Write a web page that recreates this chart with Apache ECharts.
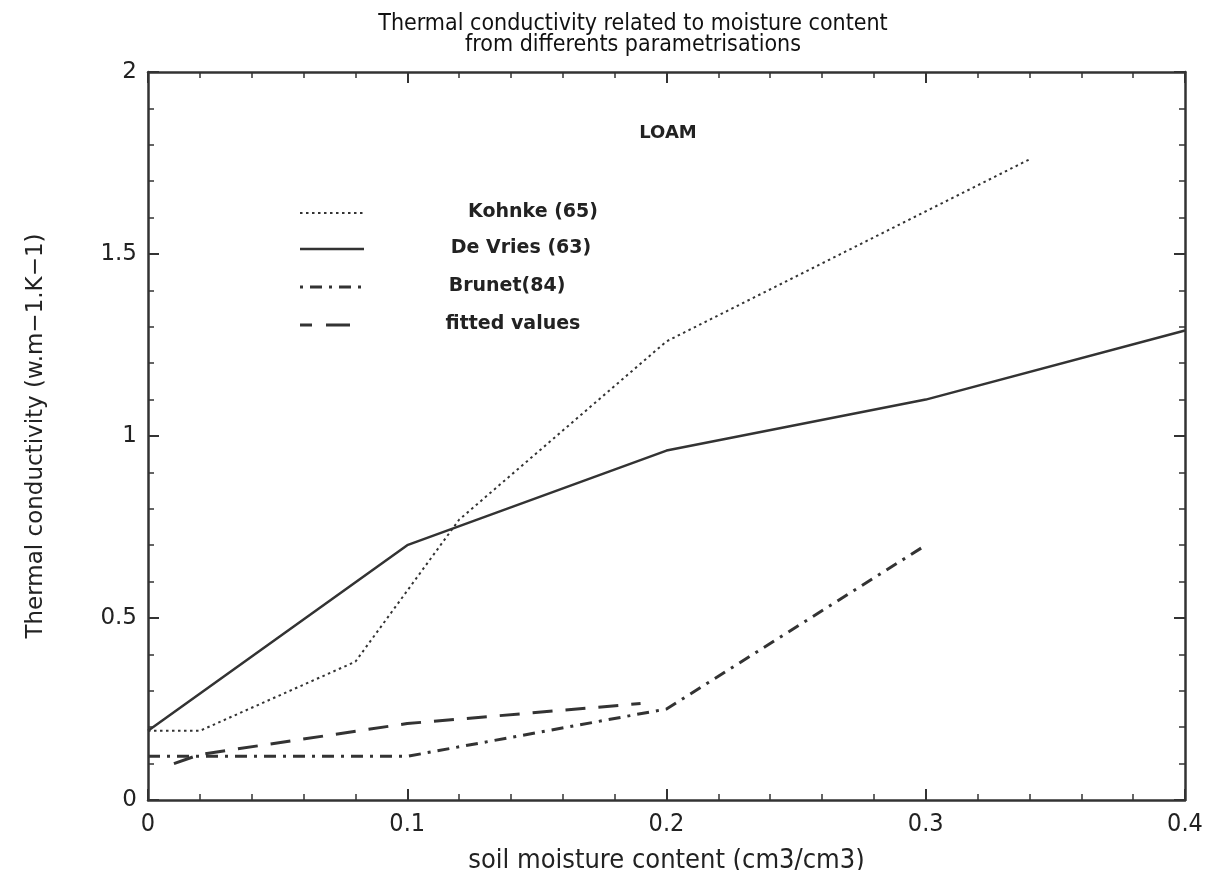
<!DOCTYPE html>
<html>
<head>
<meta charset="utf-8">
<script src="https://cdn.jsdelivr.net/npm/echarts@6/dist/echarts.min.js"></script>
<style>
html,body{margin:0;padding:0;background:#fff;}
#chart{width:1207px;height:870px;}
</style>
</head>
<body>
<div id="chart"></div>
<script>
// ---- data ----
var xTicks = [0, 0.1, 0.2, 0.3, 0.4];
var yTicks = [0, 0.5, 1, 1.5, 2];
var seriesNames = ['Kohnke (65)', 'De Vries (63)', 'Brunet(84)', 'fitted values'];
var kohnke = [[0, 0.19], [0.02, 0.19], [0.08, 0.38], [0.12, 0.77], [0.2, 1.26], [0.34, 1.76]];
var deVries = [[0, 0.19], [0.1, 0.70], [0.2, 0.96], [0.3, 1.10], [0.4, 1.29]];
var brunet = [[0, 0.12], [0.1, 0.12], [0.2, 0.25], [0.3, 0.70]];
var fitted = [[0.01, 0.10], [0.02, 0.125], [0.1, 0.21], [0.19, 0.265]];
var soilLabel = 'LOAM';

var INK = '#333';
var chart = echarts.init(document.getElementById('chart'));

function baseAxis(extra) {
  return Object.assign({
    type: 'value',
    axisLine: { show: true, onZero: false, lineStyle: { color: INK, width: 2.5 } },
    axisTick: { show: true, inside: true, length: 11, lineStyle: { color: INK, width: 2 } },
    minorTick: { show: true, splitNumber: 5, length: 6, lineStyle: { color: INK, width: 1.5 } },
    splitLine: { show: false },
    minorSplitLine: { show: false }
  }, extra);
}

var option = {
  backgroundColor: '#fff',
  animation: false,
  title: {
    text: 'Thermal conductivity related to moisture content\nfrom differents parametrisations',
    left: 628, top: 9, textAlign: 'center',
    textStyle: { fontFamily: 'DejaVu Sans Condensed, DejaVu Sans, sans-serif', fontSize: 23, fontWeight: 'normal', color: '#111', lineHeight: 21 }
  },
  grid: { left: 148, right: 22, top: 72, bottom: 70, containLabel: false, outerBoundsMode: 'none' },
  xAxis: [
    baseAxis({
      min: 0, max: 0.4, interval: 0.1, position: 'bottom',
      name: 'soil moisture content (cm3/cm3)', nameLocation: 'middle', nameGap: 47,
      nameTextStyle: { fontFamily: 'DejaVu Sans Condensed, DejaVu Sans, sans-serif', fontSize: 27, color: '#222' },
      axisLabel: {
        margin: 12, fontSize: 25, color: '#222', fontFamily: 'DejaVu Sans Condensed, DejaVu Sans, sans-serif',
        formatter: function (v) { return xTicks.indexOf(Math.round(v * 10) / 10) >= 0 ? String(Math.round(v * 10) / 10) : ''; }
      }
    }),
    baseAxis({ min: 0, max: 0.4, interval: 0.1, position: 'top', axisLabel: { show: false } })
  ],
  yAxis: [
    baseAxis({
      min: 0, max: 2, interval: 0.5, position: 'left',
      name: 'Thermal conductivity (w.m\u22121.K\u22121)', nameLocation: 'middle', nameGap: 100,
      nameTextStyle: { fontFamily: 'DejaVu Sans, sans-serif', fontSize: 23, color: '#222' },
      axisLabel: {
        margin: 11, fontSize: 23, color: '#222', fontFamily: 'DejaVu Sans, sans-serif',
        formatter: function (v) { return yTicks.indexOf(v) >= 0 ? String(v) : ''; }
      }
    }),
    baseAxis({ min: 0, max: 2, interval: 0.5, position: 'right', axisLabel: { show: false } })
  ],
  series: [
    { name: seriesNames[0], type: 'line', data: kohnke, showSymbol: false, silent: true,
      lineStyle: { color: INK, width: 2, type: [2.5, 3.5] } },
    { name: seriesNames[1], type: 'line', data: deVries, showSymbol: false, silent: true,
      lineStyle: { color: INK, width: 2.5 } },
    { name: seriesNames[2], type: 'line', data: brunet, showSymbol: false, silent: true,
      lineStyle: { color: INK, width: 3, type: [12, 7, 3, 7] } },
    { name: seriesNames[3], type: 'line', data: fitted, showSymbol: false, silent: true,
      lineStyle: { color: INK, width: 3, type: [20, 13] } }
  ],
  graphic: (function () {
    var g = [];
    var ys = [213, 249, 287, 325];
    var dashes = [[2.5, 3.5], null, [3, 7, 12, 7], [12, 14, 24, 100]];
    var widths = [2, 2.5, 3, 3];
    var textX = [533, 521, 507, 513];
    for (var i = 0; i < 4; i++) {
      g.push({ type: 'line', shape: { x1: 300, y1: ys[i], x2: 364, y2: ys[i] },
        style: { stroke: INK, lineWidth: widths[i], lineDash: dashes[i] || null } });
      g.push({ type: 'text', x: textX[i], y: ys[i] - 1,
        style: { text: seriesNames[i], fontFamily: 'DejaVu Sans, sans-serif', fontSize: 19, fontWeight: 'bold', fill: '#222',
          textAlign: 'center', textVerticalAlign: 'middle' } });
    }
    g.push({ type: 'text', x: 668, y: 133,
      style: { text: soilLabel, fontFamily: 'DejaVu Sans, sans-serif', fontSize: 18, fontWeight: 'bold', fill: '#222',
        textAlign: 'center', textVerticalAlign: 'middle' } });
    return g;
  })()
};
chart.setOption(option);
</script>
</body>
</html>
